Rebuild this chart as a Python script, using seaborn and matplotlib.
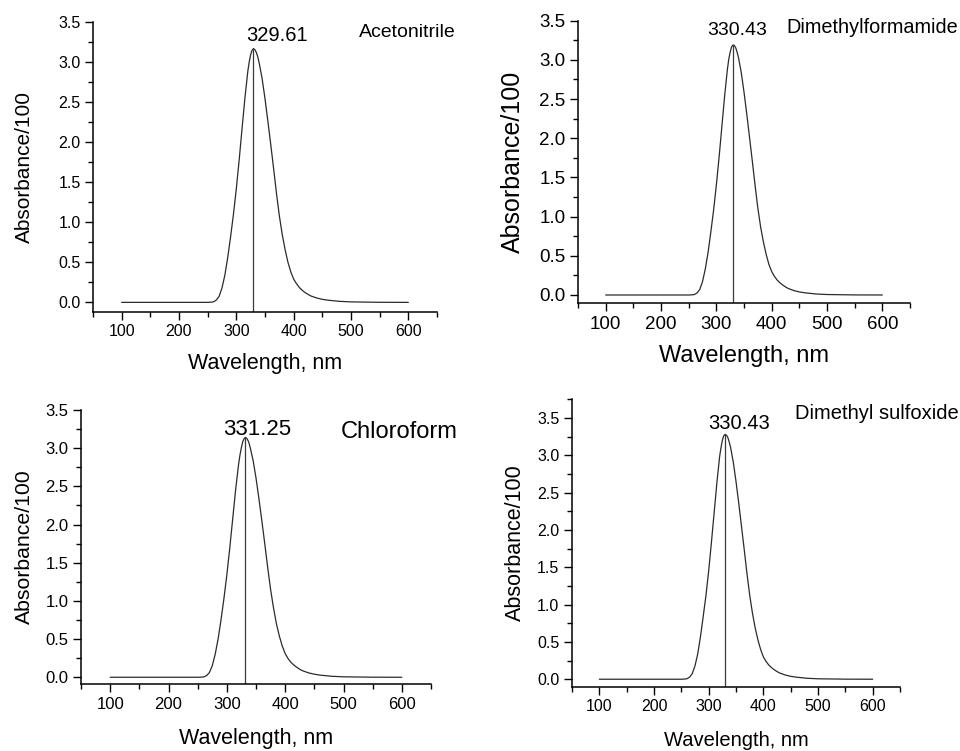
import matplotlib
matplotlib.use("Agg")
import matplotlib.pyplot as plt
from matplotlib.ticker import MultipleLocator, FormatStrFormatter
import seaborn as sns
import pandas as pd

# ---------------- data ----------------
wavelength = [100, 150, 200, 250, 255, 260, 265, 270, 275, 280, 285, 290, 295, 300,
              305, 310, 315, 320, 322.5, 325, 327.5, 330, 332.5, 335, 337.5,
              340, 345, 350, 355, 360, 365, 370, 375, 380, 385, 390, 395, 400, 405,
              410, 415, 420, 425, 430, 440, 450, 460, 480, 500, 550, 600]

abs_acetonitrile = [0, 0, 0, 0, 0.002, 0.006, 0.028, 0.075, 0.18, 0.34, 0.56, 0.82, 1.10,
                    1.42, 1.78, 2.17, 2.55, 2.88,
                    3.00, 3.09, 3.145, 3.165, 3.15, 3.115, 3.06,
                    2.98, 2.79, 2.54, 2.26, 1.97, 1.67, 1.36, 1.08, 0.85, 0.66, 0.50, 0.38,
                    0.29, 0.232,
                    0.185, 0.15, 0.122, 0.10, 0.08, 0.055, 0.038, 0.027,
                    0.013, 0.006, 0.001, 0]
abs_dmf = [0, 0, 0, 0, 0.002, 0.005, 0.025, 0.07, 0.17, 0.33, 0.54, 0.80, 1.08,
           1.40, 1.76, 2.15, 2.54, 2.88,
           3.01, 3.10, 3.165, 3.19, 3.185, 3.155, 3.10,
           3.03, 2.84, 2.59, 2.31, 2.01, 1.71, 1.40, 1.11, 0.87, 0.68, 0.52, 0.39,
           0.30, 0.238,
           0.19, 0.155, 0.127, 0.103, 0.083, 0.057, 0.039, 0.028,
           0.013, 0.006, 0.001, 0]
abs_chloroform = [0, 0, 0, 0, 0.001, 0.004, 0.02, 0.06, 0.15, 0.30, 0.50, 0.75, 1.03,
                  1.34, 1.69, 2.07, 2.45, 2.78,
                  2.91, 3.01, 3.09, 3.13, 3.14, 3.12, 3.08,
                  3.01, 2.84, 2.61, 2.34, 2.05, 1.75, 1.44, 1.15, 0.91, 0.70, 0.54, 0.41,
                  0.31, 0.245,
                  0.195, 0.16, 0.13, 0.105, 0.085, 0.058, 0.04, 0.028,
                  0.013, 0.006, 0.001, 0]
abs_dmso = [0, 0, 0, 0, 0.002, 0.006, 0.027, 0.075, 0.18, 0.34, 0.57, 0.84, 1.12,
            1.45, 1.83, 2.23, 2.63, 2.98,
            3.10, 3.20, 3.26, 3.28, 3.27, 3.24, 3.18,
            3.11, 2.91, 2.65, 2.36, 2.05, 1.74, 1.42, 1.13, 0.89, 0.69, 0.53, 0.40,
            0.30, 0.238,
            0.19, 0.155, 0.127, 0.103, 0.083, 0.057, 0.039, 0.028,
            0.013, 0.006, 0.001, 0]

solvents = ["Acetonitrile", "Dimethylformamide", "Chloroform", "Dimethyl sulfoxide"]
peak_wavelengths = [329.61, 330.43, 331.25, 330.43]
peak_heights = [3.165, 3.19, 3.14, 3.28]
x_ticks = [100, 200, 300, 400, 500, 600]
y_ticks = [0.0, 0.5, 1.0, 1.5, 2.0, 2.5, 3.0, 3.5]
x_label = "Wavelength, nm"
y_label = "Absorbance/100"

series = [abs_acetonitrile, abs_dmf, abs_chloroform, abs_dmso]

# ---------------- styling / layout ----------------
sns.set_style("ticks")
plt.rcParams["font.family"] = ["Liberation Sans", "DejaVu Sans"]

W, H = 960, 751
fig = plt.figure(figsize=(W / 100, H / 100), dpi=100)

# pixel boxes: left, right, top, bottom
boxes = [(93, 437, 21.7, 312), (578, 910, 20.7, 303.3),
         (81, 431, 410, 684.3), (572, 900, 399.3, 686.7)]
ylims = [(-0.12, 3.5), (-0.106, 3.5), (-0.092, 3.5), (-0.1, 3.75)]
tick_fs = [11.5, 13.5, 12, 11.5]
ylab_fs = [15, 18, 15.3, 15.5]
xlab_fs = [15.5, 17, 15.5, 14.5]
ylab_right_px = [34, 525, 34, 526]
xlab_top_px = [353, 345, 728, 731]
peak_fs = [14.5, 14, 16, 14.5]
peak_text_xy = [(371, 3.33), (337.6, 3.38), (351.4, 3.25), (355, 3.43)]
solv_fs = [14, 14.3, 17, 14.5]
solv_text_xy = [(514, 3.36), (426.5, 3.41), (495.2, 3.21), (458.4, 3.56)]

curve_color = "#2b2b2b"
for i in range(4):
    l, r, t, b = boxes[i]
    ax = fig.add_axes([l / W, (H - b) / H, (r - l) / W, (b - t) / H])
    df = pd.DataFrame({"wavelength": wavelength, "absorbance": series[i]})
    sns.lineplot(data=df, x="wavelength", y="absorbance", ax=ax,
                 color=curve_color, linewidth=0.9, sort=False)
    ax.set_xlim(50, 650)
    ax.set_ylim(*ylims[i])
    ax.vlines(peak_wavelengths[i], ylims[i][0], peak_heights[i],
              color="#3a3a3a", linewidth=0.9)

    ax.set_xticks(x_ticks)
    ax.xaxis.set_minor_locator(MultipleLocator(50))
    ax.set_yticks(y_ticks)
    ax.yaxis.set_minor_locator(MultipleLocator(0.25))
    ax.yaxis.set_major_formatter(FormatStrFormatter("%.1f"))
    ax.tick_params(axis="both", which="major", direction="out", length=6, width=1,
                   labelsize=tick_fs[i], colors="black", pad=3)
    ax.tick_params(axis="both", which="minor", direction="out", length=3.5, width=1,
                   colors="black")
    for s in ["top", "right"]:
        ax.spines[s].set_visible(False)
    for s in ["left", "bottom"]:
        ax.spines[s].set_linewidth(1.1)
        ax.spines[s].set_color("black")

    ax.set_xlabel(x_label, fontsize=xlab_fs[i], color="black")
    ax.set_ylabel(y_label, fontsize=ylab_fs[i], color="black")
    ax.yaxis.set_label_coords((ylab_right_px[i] - l) / (r - l), 0.5)
    ax.xaxis.set_label_coords(0.5, -(xlab_top_px[i] - b) / (b - t))

    px, py = peak_text_xy[i]
    ax.text(px, py, f"{peak_wavelengths[i]:.2f}", ha="center", va="center",
            fontsize=peak_fs[i], color="black", clip_on=False)
    sx, sy = solv_text_xy[i]
    ax.text(sx, sy, solvents[i], ha="left", va="center",
            fontsize=solv_fs[i], color="black", clip_on=False)

fig.savefig("out.png", dpi=100, facecolor="white")
